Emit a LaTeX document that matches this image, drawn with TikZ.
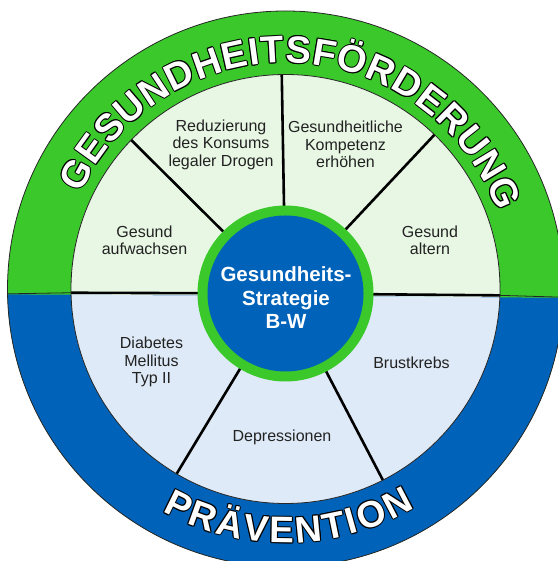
\documentclass[tikz,border=0pt]{standalone}
\usepackage{fontspec}
\setmainfont{Liberation Sans}
\usetikzlibrary{decorations.text}
\definecolor{ringgreen}{RGB}{58,200,42}
\definecolor{ringblue}{RGB}{0,98,184}
\definecolor{fieldgreen}{RGB}{232,247,228}
\definecolor{fieldblue}{RGB}{222,234,247}
\definecolor{labelgray}{RGB}{34,34,34}
\newcommand\ringfont{\fontsize{38}{38}\selectfont\bfseries}
\newcommand\bottomfont{\fontsize{37}{37}\selectfont\bfseries}
\newcommand\fieldfont{\fontsize{16}{17.5}\selectfont}
\begin{document}
\begin{tikzpicture}[x=1pt,y=1pt,
    field/.style={align=center,font=\fieldfont,text=labelgray},
    divider/.style={line width=2.6pt,black},
    rim/.style={line width=0.8pt,black!85},
    ringtext/.style={decorate,decoration={text along path,text align={fit to path},text color=#1}}]
  \useasboundingbox (0,0) rectangle (557,561);
  \coordinate (c) at (285.5,272);
  \coordinate (ic) at (285.5,267.5);
  \coordinate (L) at ([shift={(181:300pt)}]c);
  \coordinate (R) at ([shift={(358.3:300pt)}]c);
  % rings
  \fill[ringgreen] (c) circle[radius=278pt];
  \fill[fieldgreen] (c) circle[radius=214.5pt];
  \begin{scope}
    \clip (L) -- (R) -- ([yshift=-400pt]R) -- ([yshift=-400pt]L) -- cycle;
    \fill[ringblue] (c) circle[radius=278pt];
    \fill[fieldblue] (c) circle[radius=214.5pt];
  \end{scope}
  \foreach \a in {181,136,91,46,358.3,297,239.5}
    \draw[divider] ([shift={(\a:214.5pt)}]c) -- (ic);
  \draw[rim] (c) circle[radius=278pt];
  \draw[rim] (c) circle[radius=214.5pt];
  \foreach \a in {181,358.3}
    \draw[rim] ([shift={(\a:214.5pt)}]c) -- ([shift={(\a:278pt)}]c);
  \fill[ringgreen] (ic) circle[radius=88pt];
  \fill[ringblue] (ic) circle[radius=78pt];
  % labels
  \node[field] (drogen) at (221,416.6) {Reduzierung\\des Konsums\\legaler Drogen};
  \node[field] (kompetenz) at (345.5,416.6) {Gesundheitliche\\Kompetenz\\erhöhen};
  \node[field] (aufwachsen) at (144.5,320.8) {Gesund\\aufwachsen};
  \node[field] (altern) at (430,320.8) {Gesund\\altern};
  \node[field] (diabetes) at (151.5,198.7) {Diabetes\\Mellitus\\Typ II};
  \node[field] (brustkrebs) at (411.5,198.3) {Brustkrebs};
  \node[field] (depression) at (282,123.7) {Depressionen};
  \node[align=center,text=white,font=\fontsize{20.5}{23.5}\selectfont\bfseries]
    (strategie) at (286,263) {Gesundheits-\\Strategie\\B-W};
  % ring texts with outline
  \foreach \s/\col/\r in {0/black/1,45/black/1,90/black/1,135/black/1,180/black/1,
                          225/black/1,270/black/1,315/black/1,0/white/0}{
    \path[ringtext=\col,decoration={text={|\ringfont|GESUNDHEITSFÖRDERUNG}}]
      ([shift={(\s:\r pt)}]c) ++(155:226pt) arc[start angle=155,end angle=20,radius=226pt];
    \path[ringtext=\col,decoration={text={|\bottomfont|PRÄVENTION}}]
      ([shift={(\s:\r pt)}]c) ++(241:254pt) arc[start angle=241,end angle=300.6,radius=254pt];
  }
\end{tikzpicture}
\end{document}
